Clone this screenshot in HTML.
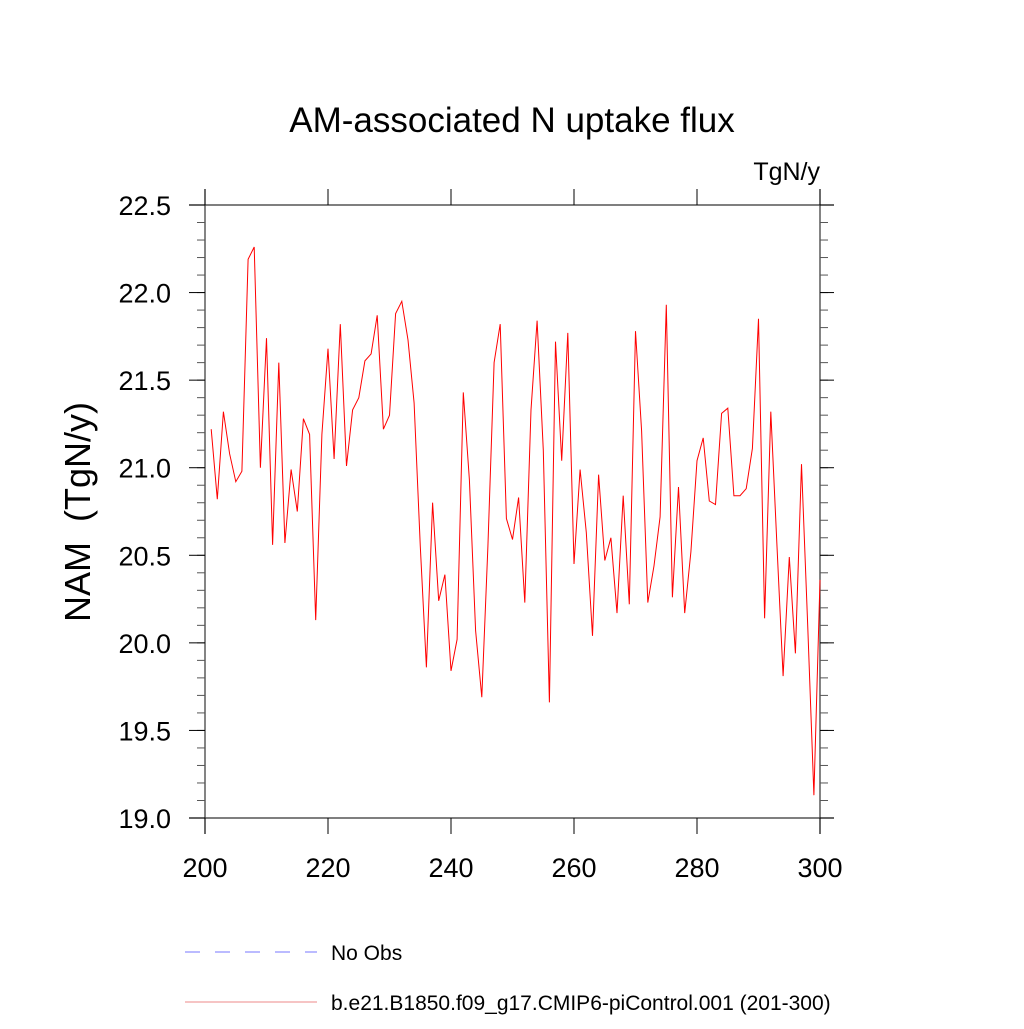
<!DOCTYPE html>
<html><head><meta charset="utf-8"><style>
body{margin:0;background:#fff;font-family:"Liberation Sans",sans-serif}
</style></head><body>
<svg width="1024" height="1024" viewBox="0 0 1024 1024" xmlns="http://www.w3.org/2000/svg" font-family="Liberation Sans, sans-serif">
<text x="512" y="132" font-size="35" text-anchor="middle">AM-associated N uptake flux</text>
<text x="820" y="180" font-size="25" text-anchor="end">TgN/y</text>
<text transform="translate(90,512) rotate(-90)" font-size="36" text-anchor="middle" xml:space="preserve">NAM  (TgN/y)</text>
<g id="axes"></g>
<g id="series"></g>
<g>
<line x1="185" y1="952" x2="317" y2="952" stroke="#7777ff" stroke-width="1" stroke-dasharray="15,15"/>
<text x="331" y="960" font-size="21">No Obs</text>
<line x1="185" y1="1002" x2="317" y2="1002" stroke="#e88" stroke-width="1"/>
<text x="331" y="1010" font-size="21">b.e21.B1850.f09_g17.CMIP6-piControl.001 (201-300)</text>
</g>
</svg>
<script>
const years = [];
for (let y = 201; y <= 300; y++) years.push(y);
const values = [21.22,20.82,21.32,21.08,20.92,20.98,22.19,22.26,21.00,21.74,
20.56,21.60,20.57,20.99,20.75,21.28,21.19,20.13,21.19,21.68,
21.05,21.82,21.01,21.33,21.40,21.61,21.65,21.87,21.22,21.30,
21.88,21.95,21.73,21.37,20.55,19.86,20.80,20.24,20.39,19.84,
20.02,21.43,20.93,20.07,19.69,20.55,21.60,21.82,20.71,20.59,
20.83,20.23,21.33,21.84,21.10,19.66,21.72,21.04,21.77,20.45,
20.99,20.63,20.04,20.96,20.47,20.60,20.17,20.84,20.22,21.78,
21.21,20.23,20.44,20.72,21.93,20.26,20.89,20.17,20.52,21.04,
21.17,20.81,20.79,21.31,21.34,20.84,20.84,20.88,21.11,21.85,
20.14,21.32,20.55,19.81,20.49,19.94,21.02,20.10,19.13,20.36];
const xTicks = [200,220,240,260,280,300];
const yTicks = [19.0,19.5,20.0,20.5,21.0,21.5,22.0,22.5];
const yTickLabels = ["19.0","19.5","20.0","20.5","21.0","21.5","22.0","22.5"];

const X0=205,X1=820,Y0=818,Y1=205;
const sx = v => X0 + (v-200)/(300-200)*(X1-X0);
const sy = v => Y0 - (v-19)/(22.5-19)*(Y0-Y1);
const NS="http://www.w3.org/2000/svg";
const axes=document.getElementById('axes');
function ln(x1,y1,x2,y2,w,c){const l=document.createElementNS(NS,'line');
l.setAttribute('x1',x1);l.setAttribute('y1',y1);l.setAttribute('x2',x2);l.setAttribute('y2',y2);
l.setAttribute('stroke',c||'#000');l.setAttribute('stroke-width',w||1);axes.appendChild(l);return l;}
function tx(x,y,s,anchor){const t=document.createElementNS(NS,'text');
t.setAttribute('x',x);t.setAttribute('y',y);t.setAttribute('font-size',27);t.setAttribute('text-anchor',anchor);
t.textContent=s;axes.appendChild(t);return t;}
let a;
a=ln(189,Y0,834,Y0,1.2,'#333');
a=ln(189,Y1,834,Y1,1.2,'#333');
a=ln(X0,189,X0,834,1.2,'#333');
a=ln(X1,189,X1,834,1.2,'#333');
xTicks.forEach(v=>{const x=sx(v);
 a=ln(x,Y0,x,834,1);
 a=ln(x,189,x,Y1,1);
 a=tx(x,877,String(v),'middle');});
for(let v=19.0;v<=22.501;v+=0.1){const y=sy(v);
 a=ln(X0-8,y,X0,y,1,'#555');
 a=ln(X1,y,X1+8,y,1,'#555');}
yTicks.forEach((v,i)=>{const y=sy(v);
 a=ln(189,y,X0,y,1);
 a=ln(X1,y,834,y,1);
 a=tx(171,y+10,yTickLabels[i],'end');});
const p=document.createElementNS(NS,'polyline');
p.setAttribute('points',years.map((yr,i)=>sx(yr).toFixed(1)+','+sy(values[i]).toFixed(1)).join(' '));
p.setAttribute('fill','none');p.setAttribute('stroke','#ff0000');p.setAttribute('stroke-width','1');


document.getElementById('series').appendChild(p);
</script>
</body></html>
